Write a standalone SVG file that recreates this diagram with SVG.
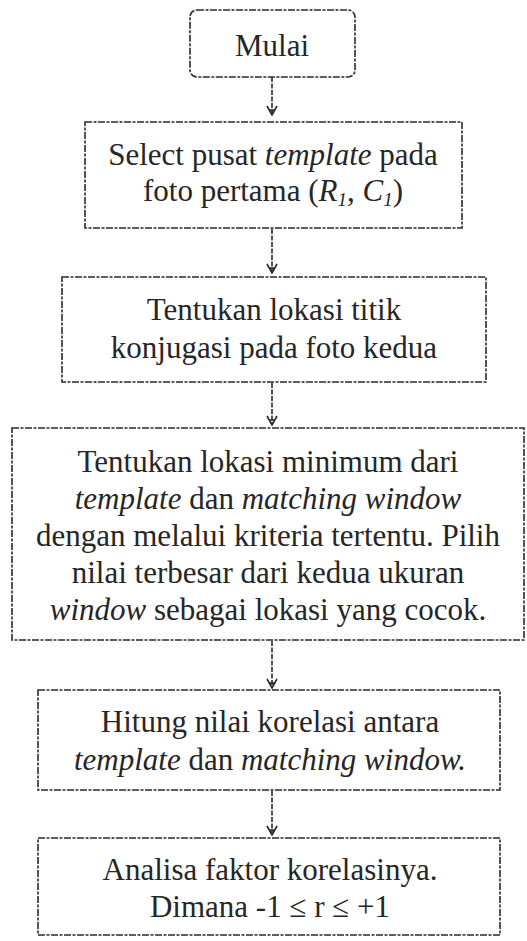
<svg xmlns="http://www.w3.org/2000/svg" width="527" height="941" viewBox="0 0 527 941">
  <defs>
    <style>
      .box { fill: #ffffff; stroke: #2a2a2a; stroke-width: 1.6; stroke-dasharray: 7 1.5 3 1.5; }
      .lbl { font-family: "Liberation Serif", "Times New Roman", serif; font-size: 31px; fill: #262626; text-anchor: middle; }
      .it { font-style: italic; }
      .edge { stroke: #2a2a2a; stroke-width: 1.6; fill: none; stroke-dasharray: 5 1.5; }
    </style>
    <!-- open V arrowhead with a cross bar, pointing along +x -->
    <marker id="arrow" viewBox="0 0 12 12" refX="11" refY="6" markerWidth="12" markerHeight="12" markerUnits="userSpaceOnUse" orient="auto">
      <path d="M2,1 L11,6 L2,11 M6,3.5 L6,8.5" fill="none" stroke="#2a2a2a" stroke-width="1.6"/>
    </marker>
  </defs>
  <rect width="527" height="941" fill="#ffffff"/>

  <g id="connectors">
    <line class="edge" x1="272" y1="77" x2="272" y2="115" marker-end="url(#arrow)"/>
    <line class="edge" x1="272" y1="229" x2="272" y2="273" marker-end="url(#arrow)"/>
    <line class="edge" x1="272" y1="383" x2="272" y2="425" marker-end="url(#arrow)"/>
    <line class="edge" x1="272" y1="641" x2="272" y2="688" marker-end="url(#arrow)"/>
    <line class="edge" x1="272" y1="791" x2="272" y2="835" marker-end="url(#arrow)"/>
  </g>

  <g id="mulai">
    <rect class="box" x="190" y="10" width="165" height="67" rx="7"/>
    <text class="lbl" x="272" y="56">Mulai</text>
  </g>

  <g id="select-template">
    <rect class="box" x="85" y="122" width="377" height="106"/>
    <text class="lbl" x="273" y="165">Select pusat <tspan class="it">template</tspan> pada</text>
    <text class="lbl" x="273" y="201">foto pertama (<tspan class="it">R</tspan><tspan class="it" font-size="19" dy="5">1</tspan><tspan dy="-5">, </tspan><tspan class="it">C</tspan><tspan class="it" font-size="19" dy="5">1</tspan><tspan dy="-5">)</tspan></text>
  </g>

  <g id="titik-konjugasi">
    <rect class="box" x="62" y="277" width="424" height="105"/>
    <text class="lbl" x="274" y="320">Tentukan lokasi titik</text>
    <text class="lbl" x="274" y="358">konjugasi pada foto kedua</text>
  </g>

  <g id="lokasi-minimum">
    <rect class="box" x="12" y="428" width="512" height="212"/>
    <text class="lbl" x="268" y="472">Tentukan lokasi minimum dari</text>
    <text class="lbl" x="268" y="509"><tspan class="it">template</tspan> dan <tspan class="it">matching window</tspan></text>
    <text class="lbl" x="268" y="546">dengan melalui kriteria tertentu. Pilih</text>
    <text class="lbl" x="268" y="583">nilai terbesar dari kedua ukuran</text>
    <text class="lbl" x="268" y="620"><tspan class="it">window</tspan> sebagai lokasi yang cocok.</text>
  </g>

  <g id="hitung-korelasi">
    <rect class="box" x="38" y="690" width="462" height="100"/>
    <text class="lbl" x="270" y="732">Hitung nilai korelasi antara</text>
    <text class="lbl" x="270" y="770"><tspan class="it">template</tspan> dan <tspan class="it">matching window.</tspan></text>
  </g>

  <g id="analisa-korelasi">
    <rect class="box" x="38" y="838" width="462" height="97"/>
    <text class="lbl" x="270" y="880">Analisa faktor korelasinya.</text>
    <text class="lbl" x="270" y="917">Dimana -1 ≤ r ≤ +1</text>
  </g>
</svg>
